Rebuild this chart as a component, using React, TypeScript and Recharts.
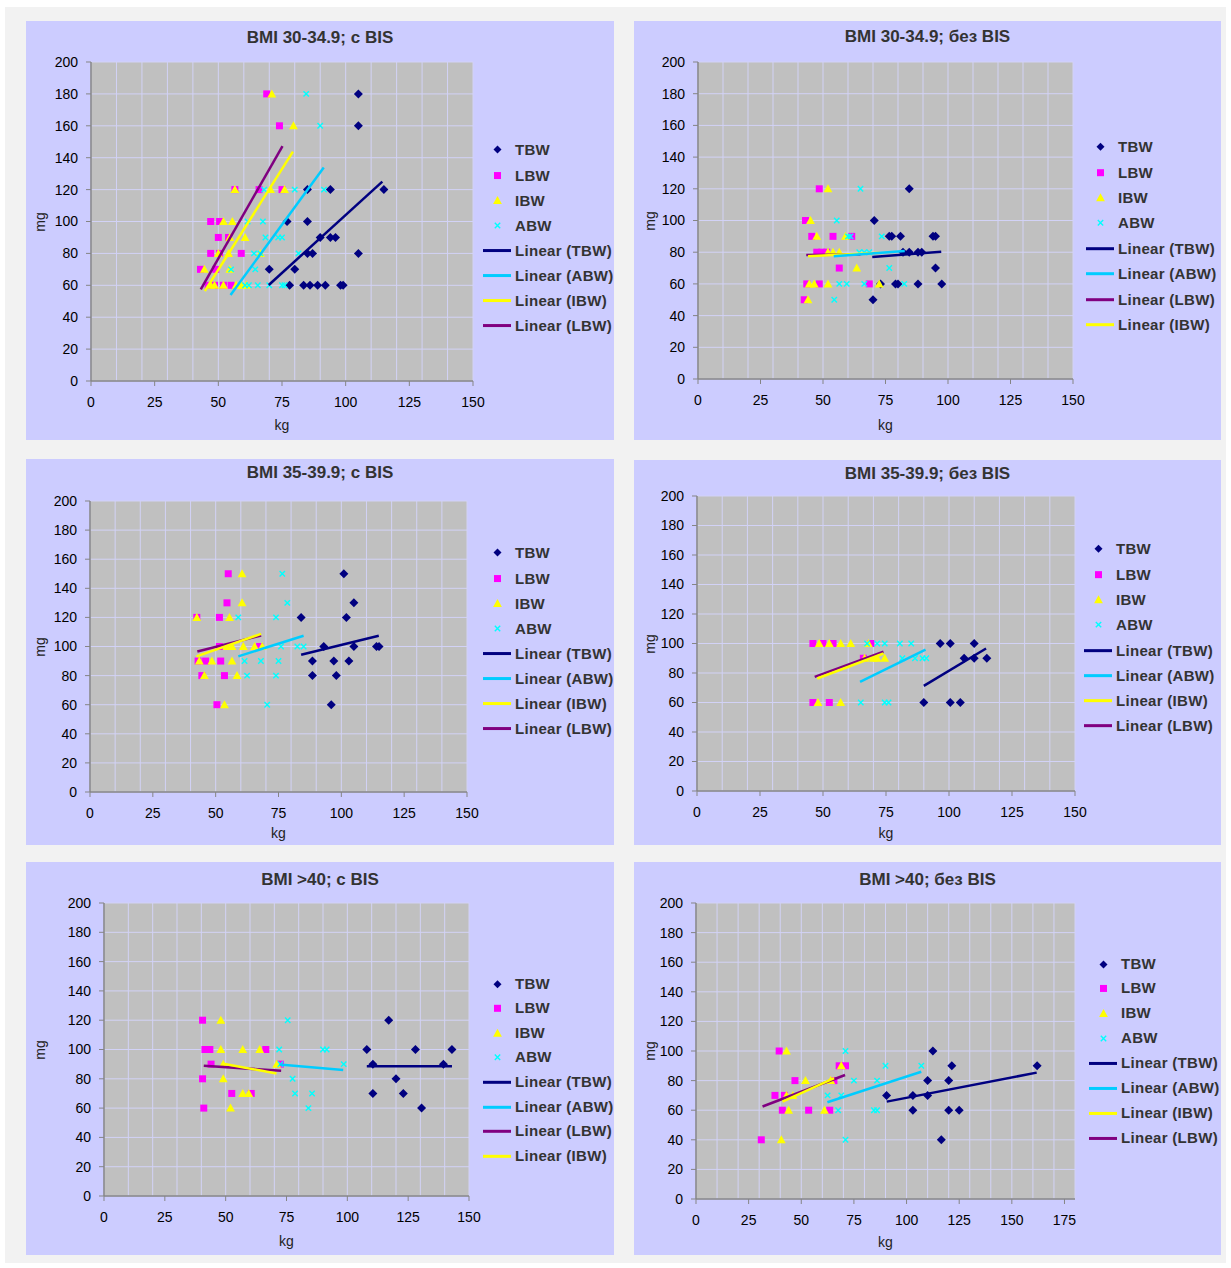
import React from 'react';
import { ScatterChart, Scatter, XAxis, YAxis, CartesianGrid, Legend } from 'recharts';

type Pt = [number, number];

// ---------- axis ticks ----------
const kgTicks150 = [0, 25, 50, 75, 100, 125, 150];
const kgTicks175 = [0, 25, 50, 75, 100, 125, 150, 175];
const kgGrid150 = [0, 10, 20, 30, 40, 50, 60, 70, 80, 90, 100, 110, 120, 130, 140, 150];
const kgGrid180 = [0, 10, 20, 30, 40, 50, 60, 70, 80, 90, 100, 110, 120, 130, 140, 150, 160, 170, 180];
const mgTicks = [0, 20, 40, 60, 80, 100, 120, 140, 160, 180, 200];

// ---------- BMI 30-34.9; с BIS ----------
const b30BisTBW: Pt[] = [[105, 180], [105, 160], [115, 120], [85, 120], [94, 120], [77, 100], [85, 100], [90, 90], [94, 90], [96, 90], [85, 80], [87, 80], [105, 80], [70, 70], [80, 70], [78, 60], [83.5, 60], [86, 60], [89, 60], [92, 60], [98, 60], [99, 60]];
const b30BisLBW: Pt[] = [[69, 180], [74, 160], [56.5, 120], [66, 120], [75, 120], [47, 100], [50.5, 100], [50, 90], [54, 90], [47, 80], [50.5, 80], [59, 80], [43, 70], [49, 70], [46, 60], [48.5, 60], [52, 60], [55, 60]];
const b30BisIBW: Pt[] = [[71, 180], [79.5, 160], [56.5, 120], [70.5, 120], [76, 120], [52, 100], [55.5, 100], [54.5, 90], [60.5, 90], [50, 80], [54, 80], [66.5, 80], [44.5, 70], [54.5, 70], [47, 60], [48.5, 60], [52, 60], [57, 60], [59, 60], [61, 60]];
const b30BisABW: Pt[] = [[84.5, 180], [90, 160], [68, 120], [80, 120], [91.5, 120], [61.5, 100], [67.5, 100], [68.5, 90], [73.5, 90], [75, 90], [64, 80], [66.5, 80], [81.5, 80], [55, 70], [64.5, 70], [60.5, 60], [62, 60], [65.5, 60], [70, 60], [75, 60], [76, 60]];
const b30BisFitTBW: Pt[] = [[69.8, 60.2], [114.4, 125]];
const b30BisFitLBW: Pt[] = [[43.1, 57.5], [75.2, 147.3]];
const b30BisFitIBW: Pt[] = [[44.7, 56.4], [79.3, 143.8]];
const b30BisFitABW: Pt[] = [[54.8, 53.9], [91.4, 133.8]];

// ---------- BMI 30-34.9; без BIS ----------
const b30NoTBW: Pt[] = [[84.5, 120], [70.5, 100], [76.5, 90], [77.5, 90], [81, 90], [94, 90], [95, 90], [82, 80], [84.5, 80], [88, 80], [89.5, 80], [95, 70], [73, 60], [79, 60], [80, 60], [88, 60], [97.5, 60], [70, 50]];
const b30NoLBW: Pt[] = [[48.5, 120], [43, 100], [45.5, 90], [54, 90], [61.5, 90], [47.5, 80], [49.5, 80], [51.5, 80], [56.5, 70], [43.5, 60], [48.5, 60], [68.5, 60], [42.5, 50]];
const b30NoIBW: Pt[] = [[52, 120], [45, 100], [47.5, 90], [59, 90], [52, 80], [54, 80], [56.5, 80], [63.5, 70], [44.5, 60], [46.5, 60], [52, 60], [72.5, 60], [44, 50]];
const b30NoABW: Pt[] = [[65, 120], [55.5, 100], [60, 90], [61, 90], [73.5, 90], [64.5, 80], [66.5, 80], [68.5, 80], [76.5, 70], [56.5, 60], [59.5, 60], [66.5, 60], [82.5, 60], [54.5, 50]];
const b30NoFitTBW: Pt[] = [[69.7, 77], [97.3, 80.3]];
const b30NoFitLBW: Pt[] = [[43.3, 78.2], [65, 78.6]];
const b30NoFitIBW: Pt[] = [[44, 77.4], [72.7, 79.7]];
const b30NoFitABW: Pt[] = [[54.3, 77.4], [82.7, 80.7]];

// ---------- BMI 35-39.9; с BIS ----------
const b35BisTBW: Pt[] = [[101, 150], [105, 130], [102, 120], [84, 120], [93, 100], [105, 100], [114, 100], [115, 100], [88.5, 90], [97, 90], [103, 90], [88.5, 80], [98, 80], [96, 60]];
const b35BisLBW: Pt[] = [[55, 150], [54.5, 130], [42.5, 120], [51.5, 120], [51.5, 100], [67.5, 100], [43, 90], [46, 90], [52, 90], [44.5, 80], [53.5, 80], [50.5, 60]];
const b35BisIBW: Pt[] = [[60.5, 150], [60.5, 130], [42.5, 120], [55.5, 120], [54.5, 100], [56.5, 100], [61, 100], [65.5, 100], [68.5, 100], [43.5, 90], [48.5, 90], [56.5, 90], [45.5, 80], [58.5, 80], [53.5, 60]];
const b35BisABW: Pt[] = [[76.5, 150], [78.5, 130], [59, 120], [74, 120], [76, 100], [82.5, 100], [85, 100], [61.5, 90], [68, 90], [75, 90], [62.5, 80], [74, 80], [70.5, 60]];
const b35BisFitTBW: Pt[] = [[84, 94.3], [114.9, 107.4]];
const b35BisFitLBW: Pt[] = [[42.7, 96.6], [68.1, 107.6]];
const b35BisFitIBW: Pt[] = [[42.4, 93.2], [68.1, 108.7]];
const b35BisFitABW: Pt[] = [[59, 93.2], [85, 107.4]];

// ---------- BMI 35-39.9; без BIS ----------
const b35NoTBW: Pt[] = [[96.5, 100], [100.5, 100], [110, 100], [106, 90], [110, 90], [115, 90], [90, 60], [100.5, 60], [104.5, 60]];
const b35NoLBW: Pt[] = [[46, 100], [50, 100], [54, 100], [69, 100], [66, 90], [46, 60], [52.5, 60]];
const b35NoIBW: Pt[] = [[48.5, 100], [52.5, 100], [57, 100], [61, 100], [68, 100], [66.5, 90], [70, 90], [71.5, 90], [74.5, 90], [48, 60], [57, 60]];
const b35NoABW: Pt[] = [[67.5, 100], [71.5, 100], [74.5, 100], [80.5, 100], [85, 100], [81.5, 90], [86.5, 90], [89.5, 90], [91, 90], [65, 60], [74.5, 60], [76, 60]];
const b35NoFitTBW: Pt[] = [[90, 71.3], [114.7, 96.6]];
const b35NoFitLBW: Pt[] = [[46.7, 77.4], [74, 94.4]];
const b35NoFitIBW: Pt[] = [[47.7, 76.3], [74, 93.2]];
const b35NoFitABW: Pt[] = [[64.7, 74], [90.7, 95.9]];

// ---------- BMI >40; с BIS ----------
const b40BisTBW: Pt[] = [[117, 120], [108, 100], [128, 100], [143, 100], [110.5, 90], [139.5, 90], [120, 80], [110.5, 70], [123, 70], [130.5, 60]];
const b40BisLBW: Pt[] = [[40.5, 120], [41.5, 100], [43.5, 100], [66.5, 100], [44, 90], [72.5, 90], [40.5, 80], [52.5, 70], [60.5, 70], [41, 60]];
const b40BisIBW: Pt[] = [[48, 120], [48, 100], [57, 100], [64, 100], [49, 90], [71, 90], [49, 80], [57, 70], [59.5, 70], [52, 60]];
const b40BisABW: Pt[] = [[75.5, 120], [72, 100], [90, 100], [91.5, 100], [98.5, 90], [72.5, 90], [77.5, 80], [78.5, 70], [85.5, 70], [84, 60]];
const b40BisFitTBW: Pt[] = [[108, 88.6], [143, 88.6]];
const b40BisFitLBW: Pt[] = [[41, 88.9], [72.8, 85.5]];
const b40BisFitIBW: Pt[] = [[48.5, 90.5], [70.9, 83.6]];
const b40BisFitABW: Pt[] = [[72.1, 89.8], [98.3, 86]];

// ---------- BMI >40; без BIS ----------
const b40NoTBW: Pt[] = [[112.5, 100], [121.5, 90], [162, 90], [110, 80], [120, 80], [90.5, 70], [103, 70], [110, 70], [103, 60], [120, 60], [125, 60], [116.5, 40]];
const b40NoLBW: Pt[] = [[39.5, 100], [68, 90], [71, 90], [47, 80], [65.5, 80], [37.5, 70], [42, 70], [41, 60], [53.5, 60], [63.5, 60], [31, 40]];
const b40NoIBW: Pt[] = [[43, 100], [69, 90], [52, 80], [64, 80], [43, 70], [46, 70], [44, 60], [61, 60], [40.5, 40]];
const b40NoABW: Pt[] = [[71, 100], [90, 90], [107, 90], [75, 80], [86, 80], [62.5, 70], [69, 70], [67.5, 60], [84.5, 60], [86, 60], [71, 40]];
const b40NoFitTBW: Pt[] = [[90.6, 65.8], [161.8, 85.4]];
const b40NoFitLBW: Pt[] = [[31.6, 62.5], [70.8, 83.8]];
const b40NoFitIBW: Pt[] = [[41.1, 65.8], [65.6, 81.6]];
const b40NoFitABW: Pt[] = [[62.4, 65.4], [107, 86]];

// ---------- legend orders ----------
const legendOrderA = ['TBW', 'LBW', 'IBW', 'ABW', 'Linear (TBW)', 'Linear (ABW)', 'Linear (IBW)', 'Linear (LBW)'];
const legendOrderB = ['TBW', 'LBW', 'IBW', 'ABW', 'Linear (TBW)', 'Linear (ABW)', 'Linear (LBW)', 'Linear (IBW)'];

// ---------- styling ----------
const FONT = "'Liberation Sans', Arial, Helvetica, sans-serif";
const NAVY = '#000080';
const MAGENTA = '#ff00ff';
const YELLOW = '#ffff00';
const CYAN = '#00ffff';
const SKY = '#00ccff';
const PURPLE = '#800080';
const PANEL_BG = '#ccccff';
const PLOT_BG = '#c0c0c0';
const GRID = '#d2d2f6';
const AXIS = '#858585';
const TEXT = '#333333';

const toXY = (pts: Pt[]) => pts.map(([x, y]) => ({ x, y }));

// marker glyphs
const diamondGlyph = (cx: number, cy: number, r = 4.5) => (
  <polygon points={`${cx},${cy - r} ${cx + r},${cy} ${cx},${cy + r} ${cx - r},${cy}`} fill={NAVY} />
);
const squareGlyph = (cx: number, cy: number) => (
  <rect x={cx - 3.5} y={cy - 3.5} width={7} height={7} fill={MAGENTA} />
);
const triangleGlyph = (cx: number, cy: number) => (
  <polygon points={`${cx},${cy - 4.5} ${cx + 4.4},${cy + 3.5} ${cx - 4.4},${cy + 3.5}`} fill={YELLOW} />
);
const crossGlyph = (cx: number, cy: number) => (
  <path d={`M${cx - 2.7},${cy - 2.7}L${cx + 2.7},${cy + 2.7}M${cx - 2.7},${cy + 2.7}L${cx + 2.7},${cy - 2.7}`} stroke={CYAN} strokeWidth={1.4} fill="none" />
);

const DiamondShape = (p: any) => diamondGlyph(p.cx, p.cy);
const SquareShape = (p: any) => squareGlyph(p.cx, p.cy);
const TriangleShape = (p: any) => triangleGlyph(p.cx, p.cy);
const CrossShape = (p: any) => crossGlyph(p.cx, p.cy);
const NoShape = () => <g />;

const lineColour: Record<string, string> = {
  'Linear (TBW)': NAVY,
  'Linear (ABW)': SKY,
  'Linear (IBW)': YELLOW,
  'Linear (LBW)': PURPLE,
};

function legendIcon(label: string, h: number) {
  const cy = h / 2;
  const cx = 18.5;
  if (label === 'TBW') return diamondGlyph(cx, cy, 4);
  if (label === 'LBW') return squareGlyph(cx, cy);
  if (label === 'IBW') return triangleGlyph(cx, cy);
  if (label === 'ABW') return crossGlyph(cx, cy);
  return <line x1={4} x2={32} y1={cy} y2={cy} stroke={lineColour[label]} strokeWidth={3} />;
}

function LegendBox({ order, rowH }: { order: string[]; rowH: number }) {
  return (
    <div>
      {order.map((label) => (
        <div key={label} style={{ display: 'flex', alignItems: 'center', height: rowH }}>
          <svg width={36} height={rowH} style={{ flex: 'none' }}>
            {legendIcon(label, rowH)}
          </svg>
          <span
            style={{
              fontFamily: FONT,
              fontWeight: 'bold',
              fontSize: 15,
              letterSpacing: 0.3,
              color: TEXT,
              whiteSpace: 'nowrap',
              lineHeight: `${rowH}px`,
            }}
          >
            {label}
          </span>
        </div>
      ))}
    </div>
  );
}

interface Box { left: number; top: number; width: number; height: number }
interface Plot { left: number; right: number; top: number; bottom: number }
interface PanelCfg {
  title: string;
  box: Box;
  plot: Plot;
  kgMax: number;
  kgTicks: number[];
  kgGrid: number[];
  tbw: Pt[]; lbw: Pt[]; ibw: Pt[]; abw: Pt[];
  fitTbw: Pt[]; fitLbw: Pt[]; fitIbw: Pt[]; fitAbw: Pt[];
  legendX: number; legendY0: number; legendDy: number; legendOrder: string[];
  titleY: number; kgY: number; mgX: number;
}

const panels: PanelCfg[] = [
  {
    title: 'BMI 30-34.9; с BIS',
    box: { left: 26, top: 21, width: 588, height: 419 },
    plot: { left: 91, right: 473, top: 62, bottom: 381 },
    kgMax: 150, kgTicks: kgTicks150, kgGrid: kgGrid150,
    tbw: b30BisTBW, lbw: b30BisLBW, ibw: b30BisIBW, abw: b30BisABW,
    fitTbw: b30BisFitTBW, fitLbw: b30BisFitLBW, fitIbw: b30BisFitIBW, fitAbw: b30BisFitABW,
    legendX: 515, legendY0: 150, legendDy: 25.1, legendOrder: legendOrderA,
    titleY: 38, kgY: 425, mgX: 40,
  },
  {
    title: 'BMI 30-34.9; без BIS',
    box: { left: 634, top: 21, width: 587, height: 419 },
    plot: { left: 698, right: 1073, top: 62, bottom: 379 },
    kgMax: 150, kgTicks: kgTicks150, kgGrid: kgGrid150,
    tbw: b30NoTBW, lbw: b30NoLBW, ibw: b30NoIBW, abw: b30NoABW,
    fitTbw: b30NoFitTBW, fitLbw: b30NoFitLBW, fitIbw: b30NoFitIBW, fitAbw: b30NoFitABW,
    legendX: 1118, legendY0: 147, legendDy: 25.4, legendOrder: legendOrderB,
    titleY: 37, kgY: 425, mgX: 650,
  },
  {
    title: 'BMI 35-39.9; с BIS',
    box: { left: 26, top: 459, width: 588, height: 386 },
    plot: { left: 90, right: 467, top: 501, bottom: 792 },
    kgMax: 150, kgTicks: kgTicks150, kgGrid: kgGrid150,
    tbw: b35BisTBW, lbw: b35BisLBW, ibw: b35BisIBW, abw: b35BisABW,
    fitTbw: b35BisFitTBW, fitLbw: b35BisFitLBW, fitIbw: b35BisFitIBW, fitAbw: b35BisFitABW,
    legendX: 515, legendY0: 553, legendDy: 25.1, legendOrder: legendOrderA,
    titleY: 473, kgY: 833, mgX: 40,
  },
  {
    title: 'BMI 35-39.9; без BIS',
    box: { left: 634, top: 460, width: 587, height: 385 },
    plot: { left: 697, right: 1075, top: 496, bottom: 791 },
    kgMax: 150, kgTicks: kgTicks150, kgGrid: kgGrid150,
    tbw: b35NoTBW, lbw: b35NoLBW, ibw: b35NoIBW, abw: b35NoABW,
    fitTbw: b35NoFitTBW, fitLbw: b35NoFitLBW, fitIbw: b35NoFitIBW, fitAbw: b35NoFitABW,
    legendX: 1116, legendY0: 549, legendDy: 25.3, legendOrder: legendOrderA,
    titleY: 474, kgY: 833, mgX: 650,
  },
  {
    title: 'BMI >40; с BIS',
    box: { left: 26, top: 862, width: 588, height: 393 },
    plot: { left: 104, right: 469, top: 903, bottom: 1196 },
    kgMax: 150, kgTicks: kgTicks150, kgGrid: kgGrid150,
    tbw: b40BisTBW, lbw: b40BisLBW, ibw: b40BisIBW, abw: b40BisABW,
    fitTbw: b40BisFitTBW, fitLbw: b40BisFitLBW, fitIbw: b40BisFitIBW, fitAbw: b40BisFitABW,
    legendX: 515, legendY0: 984, legendDy: 24.6, legendOrder: legendOrderB,
    titleY: 880, kgY: 1241, mgX: 40,
  },
  {
    title: 'BMI >40; без BIS',
    box: { left: 634, top: 862, width: 587, height: 393 },
    plot: { left: 696, right: 1075, top: 903, bottom: 1199 },
    kgMax: 180, kgTicks: kgTicks175, kgGrid: kgGrid180,
    tbw: b40NoTBW, lbw: b40NoLBW, ibw: b40NoIBW, abw: b40NoABW,
    fitTbw: b40NoFitTBW, fitLbw: b40NoFitLBW, fitIbw: b40NoFitIBW, fitAbw: b40NoFitABW,
    legendX: 1121, legendY0: 964, legendDy: 24.9, legendOrder: legendOrderA,
    titleY: 880, kgY: 1242, mgX: 650,
  },
];

const Y_AXIS_W = 60;
const X_AXIS_H = 40;

function Panel({ cfg }: { cfg: PanelCfg }) {
  const { box, plot } = cfg;
  const margin = {
    top: plot.top - box.top,
    right: box.left + box.width - plot.right,
    bottom: box.top + box.height - plot.bottom - X_AXIS_H,
    left: plot.left - box.left - Y_AXIS_W,
  };
  const tickStyle = { fill: '#000', fontSize: 14, fontFamily: FONT };
  const rowH = cfg.legendDy;
  const fitLine = (stroke: string) => ({ stroke, strokeWidth: 2.5 });

  return (
    <div
      style={{
        position: 'absolute',
        left: box.left,
        top: box.top,
        width: box.width,
        height: box.height,
        background: PANEL_BG,
      }}
    >
      <ScatterChart width={box.width} height={box.height} margin={margin}>
        <CartesianGrid fill={PLOT_BG} fillOpacity={1} stroke={GRID} strokeWidth={1} verticalValues={cfg.kgGrid} />
        <XAxis
          type="number"
          dataKey="x"
          domain={[0, cfg.kgMax]}
          ticks={cfg.kgTicks}
          interval={0}
          height={X_AXIS_H}
          tickSize={5}
          tickMargin={11}
          axisLine={{ stroke: AXIS, strokeWidth: 1.5 }}
          tickLine={{ stroke: AXIS }}
          tick={tickStyle}
          allowDataOverflow
        />
        <YAxis
          type="number"
          dataKey="y"
          domain={[0, 200]}
          ticks={mgTicks}
          interval={0}
          width={Y_AXIS_W}
          tickSize={5}
          tickMargin={8}
          axisLine={{ stroke: AXIS, strokeWidth: 1.5 }}
          tickLine={{ stroke: AXIS }}
          tick={tickStyle}
          allowDataOverflow
        />
        <Scatter name="TBW" data={toXY(cfg.tbw)} fill={NAVY} shape={DiamondShape} isAnimationActive={false} />
        <Scatter name="LBW" data={toXY(cfg.lbw)} fill={MAGENTA} shape={SquareShape} isAnimationActive={false} />
        <Scatter name="IBW" data={toXY(cfg.ibw)} fill={YELLOW} shape={TriangleShape} isAnimationActive={false} />
        <Scatter name="ABW" data={toXY(cfg.abw)} fill={CYAN} shape={CrossShape} isAnimationActive={false} />
        <Scatter name="Linear (TBW)" data={toXY(cfg.fitTbw)} fill={NAVY} line={fitLine(NAVY)} shape={NoShape} isAnimationActive={false} />
        <Scatter name="Linear (LBW)" data={toXY(cfg.fitLbw)} fill={PURPLE} line={fitLine(PURPLE)} shape={NoShape} isAnimationActive={false} />
        <Scatter name="Linear (IBW)" data={toXY(cfg.fitIbw)} fill={YELLOW} line={fitLine(YELLOW)} shape={NoShape} isAnimationActive={false} />
        <Scatter name="Linear (ABW)" data={toXY(cfg.fitAbw)} fill={SKY} line={fitLine(SKY)} shape={NoShape} isAnimationActive={false} />
        <Legend
          layout="horizontal"
          verticalAlign="middle"
          align="center"
          wrapperStyle={{
            left: cfg.legendX - 36 - box.left,
            top: cfg.legendY0 - rowH / 2 - box.top,
            width: 160,
          }}
          content={() => <LegendBox order={cfg.legendOrder} rowH={rowH} />}
        />
      </ScatterChart>

      <div
        style={{
          position: 'absolute',
          left: box.width / 2,
          top: cfg.titleY - box.top,
          transform: 'translate(-50%, -50%)',
          fontFamily: FONT,
          fontWeight: 'bold',
          fontSize: 17,
          color: TEXT,
          whiteSpace: 'nowrap',
        }}
      >
        {cfg.title}
      </div>
      <div
        style={{
          position: 'absolute',
          left: (plot.left + plot.right) / 2 - box.left,
          top: cfg.kgY - box.top,
          transform: 'translate(-50%, -50%)',
          fontFamily: FONT,
          fontSize: 14,
          color: '#222',
          whiteSpace: 'nowrap',
        }}
      >
        kg
      </div>
      <div
        style={{
          position: 'absolute',
          left: cfg.mgX - box.left,
          top: (plot.top + plot.bottom) / 2 - box.top,
          transform: 'translate(-50%, -50%) rotate(-90deg)',
          fontFamily: FONT,
          fontSize: 14,
          color: '#222',
          whiteSpace: 'nowrap',
        }}
      >
        mg
      </div>
    </div>
  );
}

export default function App() {
  return (
    <div style={{ position: 'absolute', left: 0, top: 0, width: 1231, height: 1268, background: '#ffffff', overflow: 'hidden' }}>
      <div style={{ position: 'absolute', left: 5, top: 7, width: 1221, height: 1256, background: '#f2f2f2' }} />
      {panels.map((p) => (
        <Panel key={p.title} cfg={p} />
      ))}
    </div>
  );
}
